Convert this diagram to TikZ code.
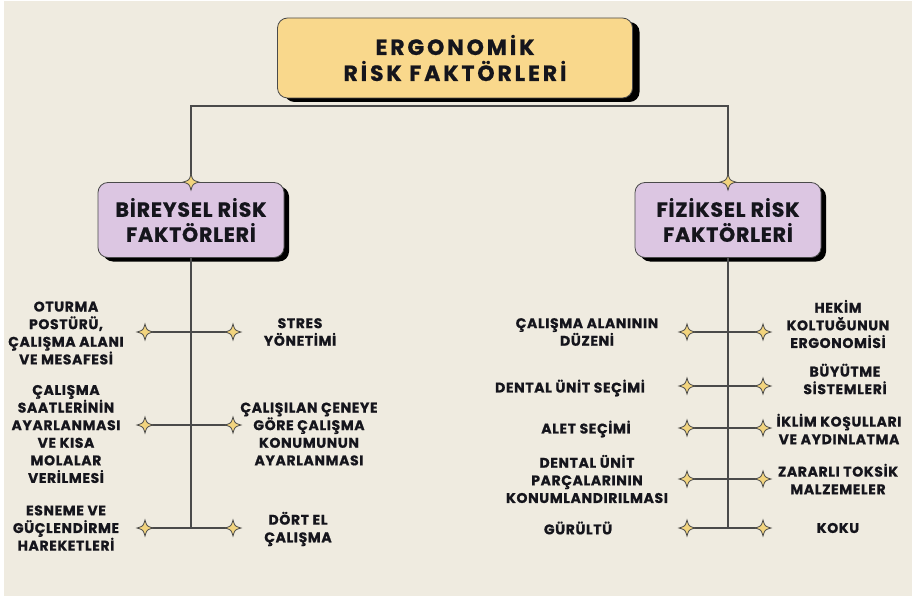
\documentclass[tikz,border=0pt]{standalone}
\usepackage{fontspec}
\setmainfont{Poppins}
\newfontfamily\itemfont[LetterSpace=4.5,BoldFeatures={FakeBold=0.8}]{Poppins}
\newfontfamily\catfont[LetterSpace=4,BoldFeatures={FakeBold=0.8}]{Poppins}
\newfontfamily\topfont[LetterSpace=13,BoldFeatures={FakeBold=0.8}]{Poppins}
\usetikzlibrary{shadows}
\definecolor{bg}{HTML}{EFEBE0}
\definecolor{topfill}{HTML}{F9D88C}
\definecolor{purp}{HTML}{DCC6E2}
\definecolor{starfill}{HTML}{F2D47E}
\definecolor{linec}{HTML}{4A4A4A}
\definecolor{ink}{HTML}{15151C}
\tikzset{
  item/.style={align=center, inner sep=0pt, text=ink, font=\itemfont\bfseries\fontsize{14}{17.6}\selectfont},
  bigbox/.style={draw=linec, line width=0.8pt, rounded corners=10pt, fill=topfill, minimum width=355pt, minimum height=80pt, align=center, text=ink, font=\topfont\bfseries\fontsize{22}{26}\selectfont, drop shadow={shadow xshift=7pt, shadow yshift=-4pt, fill=black, opacity=1}},
  catbox/.style={draw=linec, line width=0.8pt, rounded corners=10pt, fill=purp, minimum width=186pt, minimum height=75pt, align=center, text=ink, font=\catfont\bfseries\fontsize{20.5}{25}\selectfont, drop shadow={shadow xshift=5pt, shadow yshift=-4pt, fill=black, opacity=1}},
  conn/.style={draw=linec, line width=1.1pt},
  sparkle/.pic={\path[draw=linec, line width=0.8pt, fill=starfill] (0,-8) .. controls (1.8,-1.8) .. (8,0) .. controls (1.8,1.8) .. (0,8) .. controls (-1.8,1.8) .. (-8,0) .. controls (-1.8,-1.8) .. cycle;}
}
\begin{document}
\begin{tikzpicture}[x=1pt,y=-1pt]
\useasboundingbox (0,0) rectangle (912,596);
\fill[white] (0,0) rectangle (912,596);
\fill[bg] (4,1) rectangle (912,596);
% connectors from top
\coordinate (hl) at (191,106);
\coordinate (hr) at (728,106);
\node[catbox] (bir) at (191,220) {BİREYSEL RİSK\\FAKTÖRLERİ};
\node[catbox] (fiz) at (728,220) {FİZİKSEL RİSK\\FAKTÖRLERİ};
\node[bigbox] (top) at (455,58) {ERGONOMİK\\RİSK FAKTÖRLERİ};
\draw[conn] (bir.north) -- (hl) -- (hr) -- (fiz.north);
\pic at (bir.north) {sparkle};
\pic at (fiz.north) {sparkle};
% left tree
\coordinate (lbot) at (191,528);
\draw[conn] (bir.south) -- (lbot);
\foreach \n/\y in {1/332,2/425,3/528}{
  \coordinate (la\n) at (145,\y);
  \coordinate (lb\n) at (233,\y);
  \draw[conn] (la\n) -- (lb\n);
  \pic at (la\n) {sparkle};
  \pic at (lb\n) {sparkle};
}
% right tree
\coordinate (rbot) at (728,528);
\draw[conn] (fiz.south) -- (rbot);
\foreach \n/\y in {1/332,2/386,3/428,4/479,5/528}{
  \coordinate (ra\n) at (687,\y);
  \coordinate (rb\n) at (763,\y);
  \draw[conn] (ra\n) -- (rb\n);
  \pic at (ra\n) {sparkle};
  \pic at (rb\n) {sparkle};
}
% left texts
\node[item] (t1) at (66,333) {OTURMA\\POSTÜRÜ,\\ÇALIŞMA ALANI\\VE MESAFESİ};
\node[item] (t2) at (66,434) {ÇALIŞMA\\SAATLERİNİN\\AYARLANMASI\\VE KISA\\MOLALAR\\VERİLMESİ};
\node[item] (t3) at (66,528) {ESNEME VE\\GÜÇLENDİRME\\HAREKETLERİ};
\node[item] (t4) at (300,332) {STRES\\YÖNETİMİ};
\node[item] (t5) at (309,434) {ÇALIŞILAN ÇENEYE\\GÖRE ÇALIŞMA\\KONUMUNUN\\AYARLANMASI};
\node[item] (t6) at (298,529) {DÖRT EL\\ÇALIŞMA};
% right texts
\node[item] (u1) at (587,332) {ÇALIŞMA ALANININ\\DÜZENİ};
\node[item] (u2) at (570,388) {DENTAL ÜNİT SEÇİMİ};
\node[item] (u3) at (586,429) {ALET SEÇİMİ};
\node[item] (u4) at (587,479) {DENTAL ÜNİT\\PARÇALARININ\\KONUMLANDIRILMASI};
\node[item] (u5) at (578,528) {GÜRÜLTÜ};
\node[item] (v1) at (838,324) {HEKİM\\KOLTUĞUNUN\\ERGONOMİSİ};
\node[item] (v2) at (845,379) {BÜYÜTME\\SİSTEMLERİ};
\node[item] (v3) at (839,429) {İKLİM KOŞULLARI\\VE AYDINLATMA};
\node[item] (v4) at (838,479) {ZARARLI TOKSİK\\MALZEMELER};
\node[item] (v5) at (838,528) {KOKU};
\end{tikzpicture}
\end{document}
